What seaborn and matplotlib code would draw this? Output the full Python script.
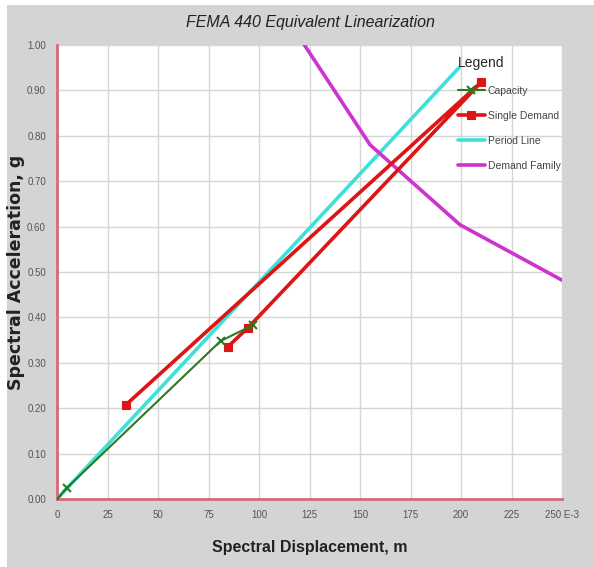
import matplotlib
matplotlib.use("Agg")
import matplotlib.pyplot as plt
import seaborn as sns
import pandas as pd
from matplotlib.patches import Rectangle

# ---- data ----
cap_x = [0, 5, 81, 97]
cap_y = [0.0, 0.025, 0.348, 0.383]
dem_x = [34, 210, 94.5, 84.5]
dem_y = [0.207, 0.918, 0.377, 0.335]
per_x = [0, 199]
per_y = [0.0, 0.95]
fam_x = [122.5, 155, 199.5, 250]
fam_y = [1.0, 0.78, 0.604, 0.482]

x_ticks = [0, 25, 50, 75, 100, 125, 150, 175, 200, 225, 250]
x_labels = ["0", "25", "50", "75", "100", "125", "150", "175", "200", "225", "250 E-3"]
y_ticks = [0.0, 0.1, 0.2, 0.3, 0.4, 0.5, 0.6, 0.7, 0.8, 0.9, 1.0]
y_labels = ["0.00", "0.10", "0.20", "0.30", "0.40", "0.50", "0.60", "0.70", "0.80", "0.90", "1.00"]

sns.set_style("white")
plt.rcParams["font.family"] = ["Liberation Sans", "DejaVu Sans"]

W, H = 594, 567
fig = plt.figure(figsize=(W / 100, H / 100), dpi=100)
fig.patch.set_facecolor("white")
fig.patches.append(Rectangle((7 / W, 0), 1 - 7 / W, 1 - 5 / H, transform=fig.transFigure,
                             facecolor="#d4d4d4", edgecolor="none", zorder=-10))

ax = fig.add_axes([57 / W, 1 - 499 / H, (562 - 57) / W, (499 - 45) / H])
ax.set_facecolor("white")

sns.lineplot(x=per_x, y=per_y, sort=False, ax=ax, color="#3fe0da", linewidth=2.6,
             label="Period Line", zorder=3)
sns.lineplot(x=fam_x, y=fam_y, sort=False, ax=ax, color="#cc33d0", linewidth=2.6,
             label="Demand Family", zorder=3)
sns.lineplot(x=dem_x, y=dem_y, sort=False, ax=ax, color="#dd1515", linewidth=2.6,
             marker="s", markersize=6, markeredgewidth=0.8, markeredgecolor="#dd1515",
             label="Single Demand", zorder=4)
sns.lineplot(x=cap_x, y=cap_y, sort=False, ax=ax, color="#2a7a22", linewidth=1.5,
             marker="x", markersize=6, markeredgewidth=1.5, markeredgecolor="#2a7a22",
             label="Capacity", zorder=5)

ax.set_xlim(0, 250)
ax.set_ylim(0, 1.0)
ax.set_xticks(x_ticks)
ax.set_xticklabels(x_labels)
ax.set_yticks(y_ticks)
ax.set_yticklabels(y_labels)
ax.grid(True, color="#d6d6d6", linewidth=1)
ax.set_axisbelow(True)

for s in ["top", "right"]:
    ax.spines[s].set_visible(False)
for s in ["left", "bottom"]:
    ax.spines[s].set_color("#d46a78")
    ax.spines[s].set_linewidth(2)

ax.tick_params(axis="both", direction="out", length=4, width=1.2, color="#444444",
               labelsize=7, labelcolor="#555555", pad=4)

ax.set_xlabel("Spectral Displacement, m", fontsize=11.5, fontweight="bold", color="#222222")
ax.set_ylabel("Spectral Acceleration, g", fontsize=12.5, fontweight="bold", color="#222222",
              family=["DejaVu Sans"])
ax.yaxis.set_label_coords((25 - 57) / 505, 0.5)
ax.xaxis.set_label_coords((310 - 57) / 505, (499 - 540) / 454)

fig.text(310 / W, 1 - 22 / H, "FEMA 440 Equivalent Linearization", ha="center", va="center",
         fontsize=11.5, fontstyle="italic", color="#222222")

h, l = ax.get_legend_handles_labels()
order = ["Capacity", "Single Demand", "Period Line", "Demand Family"]
hs = [h[l.index(o)] for o in order]
leg = ax.legend(hs, order, title="Legend", loc="upper left", bbox_to_anchor=(0.785, 0.984),
                frameon=False, fontsize=7.5, title_fontsize=10, handlelength=2.6,
                labelspacing=1.45, handletextpad=0.3, alignment="left", borderaxespad=0)
for t in leg.get_texts():
    t.set_color("#444444")

fig.savefig("out.png", dpi=100)
